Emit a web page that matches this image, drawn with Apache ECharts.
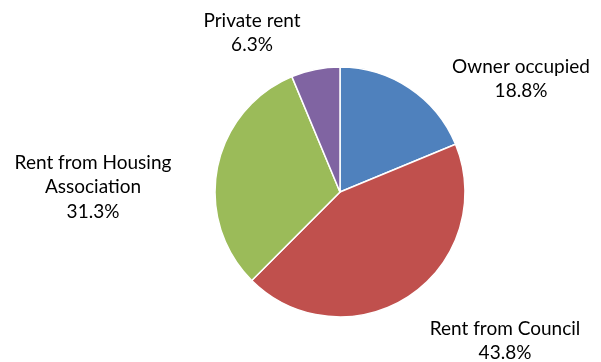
<!DOCTYPE html>
<html>
<head>
<meta charset="utf-8">
<script src="https://cdn.jsdelivr.net/npm/echarts@6/dist/echarts.min.js"></script>
<style>
  html, body { margin: 0; padding: 0; background: #fff; }
  #chart { width: 601px; height: 362px; }
</style>
</head>
<body>
<div id="chart"></div>
<script>
// Housing tenure shares (percent)
const categories = ['Owner occupied', 'Rent from Council', 'Rent from Housing\nAssociation', 'Private rent'];
const shares = [18.8, 43.8, 31.3, 6.3];
const colors = ['#4F81BD', '#C0504D', '#9BBB59', '#8064A2'];

// Label anchor points (centre of each text block), in pixels
const labelAnchors = [
  [521, 79],
  [505, 341],
  [93, 187],
  [252, 33]
];

const chart = echarts.init(document.getElementById('chart'), null, { renderer: 'canvas' });

chart.setOption({
  animation: false,
  color: colors,
  series: [{
    type: 'pie',
    center: [340, 192],
    radius: 125,
    startAngle: 90,
    clockwise: true,
    itemStyle: { borderColor: '#ffffff', borderWidth: 1.5 },
    label: {
      show: true,
      position: 'outside',
      formatter: p => p.name + '\n' + p.value.toFixed(1) + '%',
      fontFamily: 'Lato',
      fontSize: 19,
      lineHeight: 24.5,
      color: '#000000',
      align: 'center',
      overflow: 'none'
    },
    labelLine: { show: false },
    labelLayout: params => {
      const a = labelAnchors[params.dataIndex];
      return { x: a[0], y: a[1], align: 'center', verticalAlign: 'middle' };
    },
    emphasis: { disabled: true },
    data: categories.map((name, i) => ({ name, value: shares[i] }))
  }]
});
</script>
</body>
</html>
